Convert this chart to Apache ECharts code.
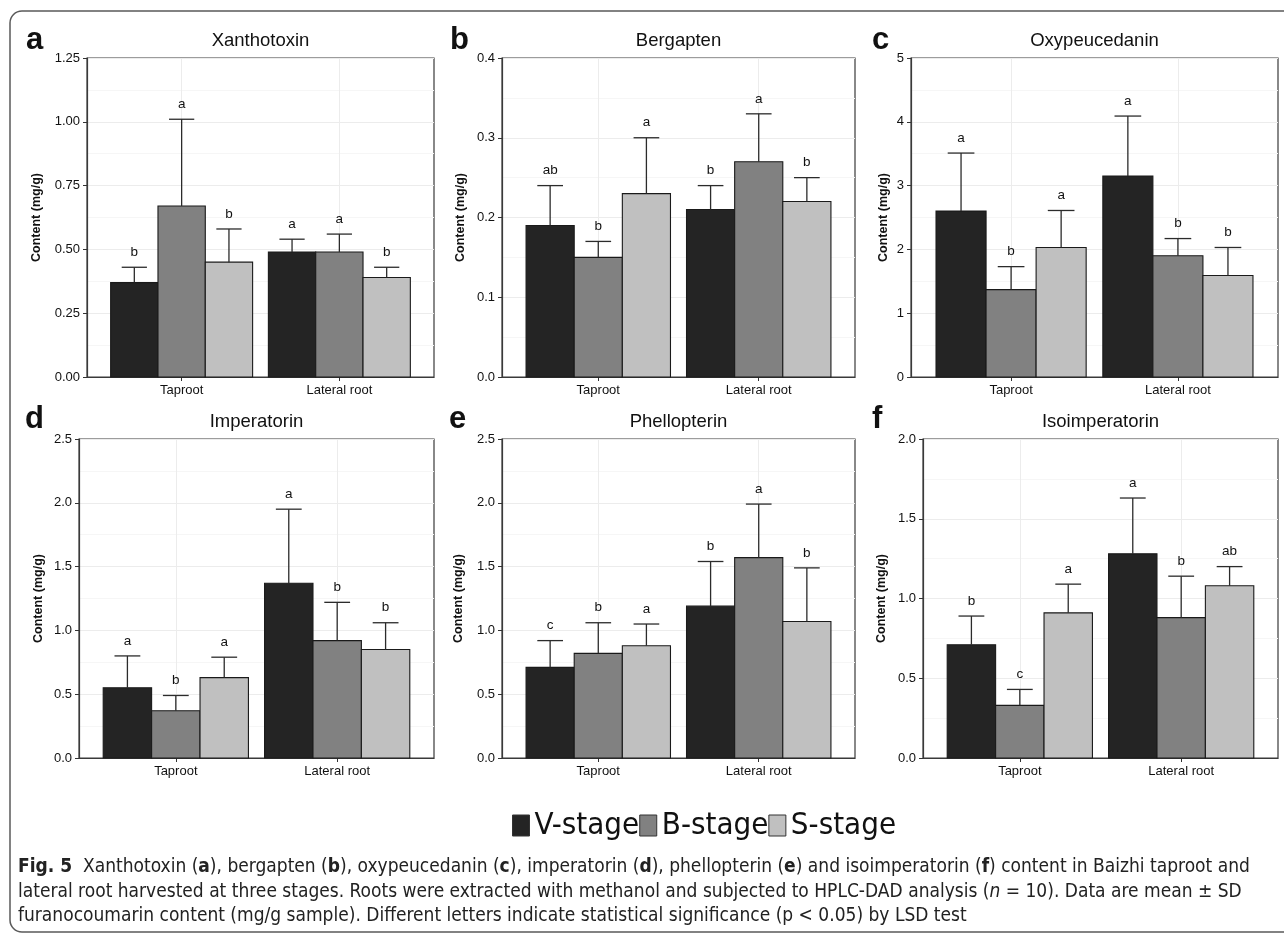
<!DOCTYPE html>
<html>
<head>
<meta charset="utf-8">
<title>Fig. 5 furanocoumarin content</title>
<script src="https://cdn.jsdelivr.net/npm/echarts@6/dist/echarts.min.js"></script>
<style>
  html, body { margin: 0; padding: 0; background: #fff; }
  #chart { width: 1284px; height: 934px; }
</style>
</head>
<body>
<div id="chart"></div>
<script>
// categories and groups
const categories = ['Taproot', 'Lateral root'];
const stages = ['V-stage', 'B-stage', 'S-stage'];
const stageColors = ['#242424', '#818181', '#c0c0c0'];

// mean content (mg/g), rows = V, B, S ; cols = Taproot, Lateral root
const xanthotoxinMean = [[0.37, 0.49], [0.67, 0.49], [0.45, 0.39]];
const xanthotoxinSD = [[0.06, 0.05], [0.34, 0.07], [0.13, 0.04]];
const xanthotoxinLetters = [['b', 'a'], ['a', 'a'], ['b', 'b']];

const bergaptenMean = [[0.19, 0.21], [0.15, 0.27], [0.23, 0.22]];
const bergaptenSD = [[0.05, 0.03], [0.02, 0.06], [0.07, 0.03]];
const bergaptenLetters = [['ab', 'b'], ['b', 'a'], ['a', 'b']];

const oxypeucedaninMean = [[2.60, 3.15], [1.37, 1.90], [2.03, 1.59]];
const oxypeucedaninSD = [[0.91, 0.94], [0.36, 0.27], [0.58, 0.44]];
const oxypeucedaninLetters = [['a', 'a'], ['b', 'b'], ['a', 'b']];

const imperatorinMean = [[0.55, 1.37], [0.37, 0.92], [0.63, 0.85]];
const imperatorinSD = [[0.25, 0.58], [0.12, 0.30], [0.16, 0.21]];
const imperatorinLetters = [['a', 'a'], ['b', 'b'], ['a', 'b']];

const phellopterinMean = [[0.71, 1.19], [0.82, 1.57], [0.88, 1.07]];
const phellopterinSD = [[0.21, 0.35], [0.24, 0.42], [0.17, 0.42]];
const phellopterinLetters = [['c', 'b'], ['b', 'a'], ['a', 'b']];

const isoimperatorinMean = [[0.71, 1.28], [0.33, 0.88], [0.91, 1.08]];
const isoimperatorinSD = [[0.18, 0.35], [0.10, 0.26], [0.18, 0.12]];
const isoimperatorinLetters = [['b', 'a'], ['c', 'b'], ['a', 'ab']];

// y axis ticks per panel
const yMax = [1.25, 0.4, 5, 2.5, 2.5, 2.0];
const yInterval = [0.25, 0.1, 1, 0.5, 0.5, 0.5];
const yDigits = [2, 1, 0, 1, 1, 1];

const panelData = [
  { name: 'Xanthotoxin', tag: 'a', mean: xanthotoxinMean, sd: xanthotoxinSD, letters: xanthotoxinLetters },
  { name: 'Bergapten', tag: 'b', mean: bergaptenMean, sd: bergaptenSD, letters: bergaptenLetters },
  { name: 'Oxypeucedanin', tag: 'c', mean: oxypeucedaninMean, sd: oxypeucedaninSD, letters: oxypeucedaninLetters },
  { name: 'Imperatorin', tag: 'd', mean: imperatorinMean, sd: imperatorinSD, letters: imperatorinLetters },
  { name: 'Phellopterin', tag: 'e', mean: phellopterinMean, sd: phellopterinSD, letters: phellopterinLetters },
  { name: 'Isoimperatorin', tag: 'f', mean: isoimperatorinMean, sd: isoimperatorinSD, letters: isoimperatorinLetters }
];

// layout (pixels) of each panel
const layout = [
  { left: 87, top: 58, width: 347, nameGap: 44, tagX: 26, tagY: 44, titleY: 41 },
  { left: 502, top: 58, width: 353, nameGap: 35, tagX: 450, tagY: 44, titleY: 41 },
  { left: 911, top: 58, width: 367, nameGap: 21, tagX: 872, tagY: 44, titleY: 41 },
  { left: 79, top: 439, width: 355, nameGap: 34, tagX: 25, tagY: 423, titleY: 422 },
  { left: 502, top: 439, width: 353, nameGap: 37, tagX: 449, tagY: 423, titleY: 422 },
  { left: 923, top: 439, width: 355, nameGap: 35, tagX: 872, tagY: 423, titleY: 422 }
];
const PLOT_H = 319;

const FONT = 'Liberation Sans, Arial, sans-serif';
const CONDENSED = 'DejaVu Sans Condensed, Liberation Sans Narrow, sans-serif';
const BAR_W = 0.3;   // dodge width of one bar (category units)
const CAP_W = 0.16;  // error bar cap width

function makeRenderer(stageIdx, letters) {
  return function (params, api) {
    const cat = api.value(0);
    const mean = api.value(1);
    const sd = api.value(2);
    const xc = cat + (stageIdx - 1) * BAR_W;
    const base = api.coord([xc - BAR_W / 2, 0]);
    const corner = api.coord([xc + BAR_W / 2, mean]);
    const top = api.coord([xc, mean + sd]);
    const capL = api.coord([xc - CAP_W / 2, mean + sd]);
    const capR = api.coord([xc + CAP_W / 2, mean + sd]);
    const lineStyle = { stroke: '#2b2b2b', lineWidth: 1.3 };
    return {
      type: 'group',
      children: [
        {
          type: 'rect',
          shape: { x: base[0], y: corner[1], width: corner[0] - base[0], height: base[1] - corner[1] },
          style: { fill: stageColors[stageIdx], stroke: '#1a1a1a', lineWidth: 1.1 }
        },
        { type: 'line', shape: { x1: top[0], y1: corner[1], x2: top[0], y2: top[1] }, style: lineStyle },
        { type: 'line', shape: { x1: capL[0], y1: top[1], x2: capR[0], y2: top[1] }, style: lineStyle },
        {
          type: 'text',
          x: top[0],
          y: top[1] - 8,
          style: {
            text: letters[params.dataIndex],
            align: 'center', verticalAlign: 'bottom',
            textAlign: 'center', textVerticalAlign: 'bottom',
            fontSize: 13.5, fontFamily: FONT, fill: '#111'
          }
        }
      ]
    };
  };
}

const grids = [], xAxes = [], yAxes = [], series = [], graphics = [];

panelData.forEach((p, i) => {
  const box = layout[i];
  grids.push({
    left: box.left, top: box.top, width: box.width, height: PLOT_H,
    show: true, backgroundColor: '#fff', borderColor: '#3a3a3a', borderWidth: 1.2
  });
  xAxes.push({
    gridIndex: i, type: 'value', min: 0.4, max: 2.6,
    axisLine: { show: true, onZero: false, lineStyle: { color: '#3a3a3a', width: 1.2 } },
    axisTick: { show: true, length: 4, customValues: [1, 2], lineStyle: { color: '#333' } },
    axisLabel: {
      customValues: [1, 2], margin: 7, fontSize: 13, fontFamily: FONT, color: '#111',
      formatter: v => categories[Math.round(v) - 1]
    },
    splitLine: { show: true, lineStyle: { color: '#ececec', width: 1 } }
  });
  yAxes.push({
    gridIndex: i, type: 'value', min: 0, max: yMax[i], interval: yInterval[i],
    name: 'Content (mg/g)', nameLocation: 'middle', nameGap: box.nameGap, nameRotate: 90,
    nameTextStyle: { fontSize: 12.5, fontWeight: 'bold', fontFamily: FONT, color: '#111' },
    axisLine: { show: true, lineStyle: { color: '#3a3a3a', width: 1.2 } },
    axisTick: { show: true, length: 4, lineStyle: { color: '#333' } },
    axisLabel: {
      margin: 7, fontSize: 13, fontFamily: FONT, color: '#111',
      formatter: v => v.toFixed(yDigits[i])
    },
    splitLine: { show: true, lineStyle: { color: '#ececec', width: 1 } },
    minorTick: { show: false, splitNumber: 2 },
    minorSplitLine: { show: true, lineStyle: { color: '#f6f6f6', width: 1 } }
  });
  stages.forEach((stage, s) => {
    series.push({
      type: 'custom',
      name: stage,
      xAxisIndex: i,
      yAxisIndex: i,
      itemStyle: { color: stageColors[s], borderColor: '#1a1a1a', borderWidth: 1 },
      encode: { x: 0, y: 1 },
      data: categories.map((c, k) => [k + 1, p.mean[s][k], p.sd[s][k]]),
      renderItem: makeRenderer(s, p.letters[s])
    });
  });
  graphics.push({
    type: 'text', left: box.tagX, top: box.tagY - 19,
    style: { text: p.tag, fontSize: 31, fontWeight: 'bold', fontFamily: FONT, fill: '#111' }
  });
  graphics.push({
    type: 'text', x: box.left + box.width / 2, y: box.titleY,
    style: {
      text: p.name, align: 'center', verticalAlign: 'middle',
      textAlign: 'center', textVerticalAlign: 'middle',
      fontSize: 18.5, fontFamily: FONT, fill: '#111'
    }
  });
});

// rounded figure frame
graphics.push({
  type: 'rect', z: -10,
  shape: { x: 10, y: 11, width: 1300, height: 921, r: 12 },
  style: { fill: 'none', stroke: '#5a5a5a', lineWidth: 1.5 }
});

const captionLines = [
  '{b|Fig. 5}  Xanthotoxin ({b|a}), bergapten ({b|b}), oxypeucedanin ({b|c}), imperatorin ({b|d}), phellopterin ({b|e}) and isoimperatorin ({b|f}) content in Baizhi taproot and',
  'lateral root harvested at three stages. Roots were extracted with methanol and subjected to HPLC-DAD analysis ({i|n} = 10). Data are mean ± SD',
  'furanocoumarin content (mg/g sample). Different letters indicate statistical significance (p < 0.05) by LSD test'
];
const CAP_SIZE = 19;
const captionRich = {
  b: { fontWeight: 'bold', fontFamily: CONDENSED, fontSize: CAP_SIZE, color: '#222' },
  i: { fontStyle: 'italic', fontFamily: CONDENSED, fontSize: CAP_SIZE, color: '#222' }
};
const titles = captionLines.map((line, k) => ({
  text: line,
  left: 18,
  top: 858 + k * 24.5,
  padding: 0,
  textStyle: { fontFamily: CONDENSED, fontSize: CAP_SIZE, fontWeight: 'normal', color: '#222', rich: captionRich }
}));

const chart = echarts.init(document.getElementById('chart'), null, { renderer: 'canvas' });
chart.setOption({
  animation: false,
  backgroundColor: '#fff',
  title: titles,
  legend: {
    data: stages,
    left: 512,
    top: 810,
    icon: 'rect',
    itemWidth: 17,
    itemHeight: 21,
    itemGap: 0,
    padding: 0,
    itemStyle: { borderColor: '#333', borderWidth: 1 },
    textStyle: { fontSize: 31, fontFamily: CONDENSED, color: '#111' }
  },
  grid: grids,
  xAxis: xAxes,
  yAxis: yAxes,
  series: series,
  graphic: graphics
});
</script>
</body>
</html>
